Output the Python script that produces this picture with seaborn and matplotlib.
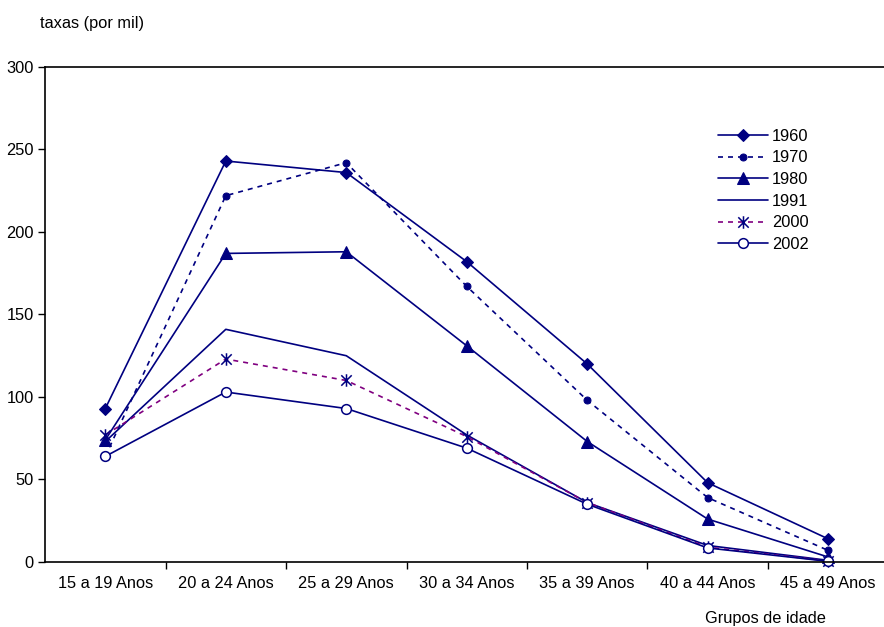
import seaborn as sns
import matplotlib.pyplot as plt
import pandas as pd
import numpy as np
from matplotlib.path import Path
from matplotlib.ticker import FixedLocator

# Age groups and fertility rates (per thousand)
groups = ["15 a 19 Anos", "20 a 24 Anos", "25 a 29 Anos", "30 a 34 Anos",
          "35 a 39 Anos", "40 a 44 Anos", "45 a 49 Anos"]
rates_1960 = [93, 243, 236, 182, 120, 48, 14]
rates_1970 = [64, 222, 242, 167, 98, 39, 7]
rates_1980 = [74, 187, 188, 131, 73, 26, 3]
rates_1991 = [73, 141, 125, 77, 36, 10, 1]
rates_2000 = [77, 123, 110, 76, 36, 9, 0.6]
rates_2002 = [64, 103, 93, 69, 35, 8.5, 0.4]
years = ["1960", "1970", "1980", "1991", "2000", "2002"]
series = [rates_1960, rates_1970, rates_1980, rates_1991, rates_2000, rates_2002]

data = pd.DataFrame({
    "grupo": groups * len(years),
    "ano": np.repeat(years, len(groups)),
    "taxa": np.concatenate(series),
})

# Excel-style star marker: x with a vertical bar
star = Path([(-1, -1), (1, 1), (-1, 1), (1, -1), (0, -1.2), (0, 1.2)],
            [Path.MOVETO, Path.LINETO, Path.MOVETO, Path.LINETO, Path.MOVETO, Path.LINETO])

navy = "#000080"
styles = {
    "1960": dict(color=navy, linestyle="-", marker="D", markersize=6.5,
                 markerfacecolor=navy, markeredgecolor=navy),
    "1970": dict(color=navy, linestyle=(0, (3, 3)), marker="o", markersize=5,
                 markerfacecolor=navy, markeredgecolor=navy),
    "1980": dict(color=navy, linestyle="-", marker="^", markersize=8,
                 markerfacecolor=navy, markeredgecolor=navy),
    "1991": dict(color=navy, linestyle="-", marker=None),
    "2000": dict(color="#800080", linestyle=(0, (3, 3)), marker=star, markersize=9,
                 markerfacecolor="none", markeredgecolor=navy, markeredgewidth=1.1),
    "2002": dict(color=navy, linestyle="-", marker="o", markersize=7,
                 markerfacecolor="white", markeredgecolor=navy, markeredgewidth=1.1),
}

sns.set_style("white")
plt.rcParams["font.family"] = ["Liberation Sans", "DejaVu Sans"]
plt.rcParams["text.color"] = "black"
plt.rcParams["xtick.color"] = "black"
plt.rcParams["ytick.color"] = "black"
fs = 11.8

fig = plt.figure(figsize=(8.84, 6.27), dpi=100)
ax = fig.add_axes([0.051, 0.1037, 0.954, 0.7895])

for year in years:
    sub = data[data["ano"] == year]
    sns.lineplot(data=sub, x="grupo", y="taxa", ax=ax, label=year,
                 linewidth=1.2, sort=False, clip_on=False, **styles[year])

ax.set_xlim(-0.5, 6.5)
ax.set_ylim(0, 300)
ax.set_yticks(range(0, 301, 50))
ax.set_xticks(range(len(groups)))
ax.set_xticklabels(groups)
ax.xaxis.set_minor_locator(FixedLocator(np.arange(0.5, 6.5, 1.0)))
ax.tick_params(axis="x", which="major", length=0, pad=10, labelsize=fs)
ax.tick_params(axis="x", which="minor", bottom=True, length=5, width=1,
               direction="out", color="black")
ax.tick_params(axis="y", which="major", left=True, length=5, width=1, direction="out",
               color="black", labelsize=fs, pad=3)
ax.set_xlabel("")
ax.set_ylabel("")
ax.spines["right"].set_visible(False)
for side in ["left", "bottom", "top"]:
    ax.spines[side].set_color("black")
    ax.spines[side].set_linewidth(1.2)

fig.text(0.045, 0.962, "taxas (por mil)", fontsize=fs, va="center")
fig.text(0.797, 0.0128, "Grupos de idade", fontsize=fs, va="center")

leg = ax.legend(loc="upper left", bbox_to_anchor=(0.812, 0.795), bbox_transform=fig.transFigure,
                frameon=False, fontsize=fs, handlelength=3.05, handletextpad=0.25,
                labelspacing=0.41, borderaxespad=0, borderpad=0)

fig.savefig("out.png", dpi=100)
